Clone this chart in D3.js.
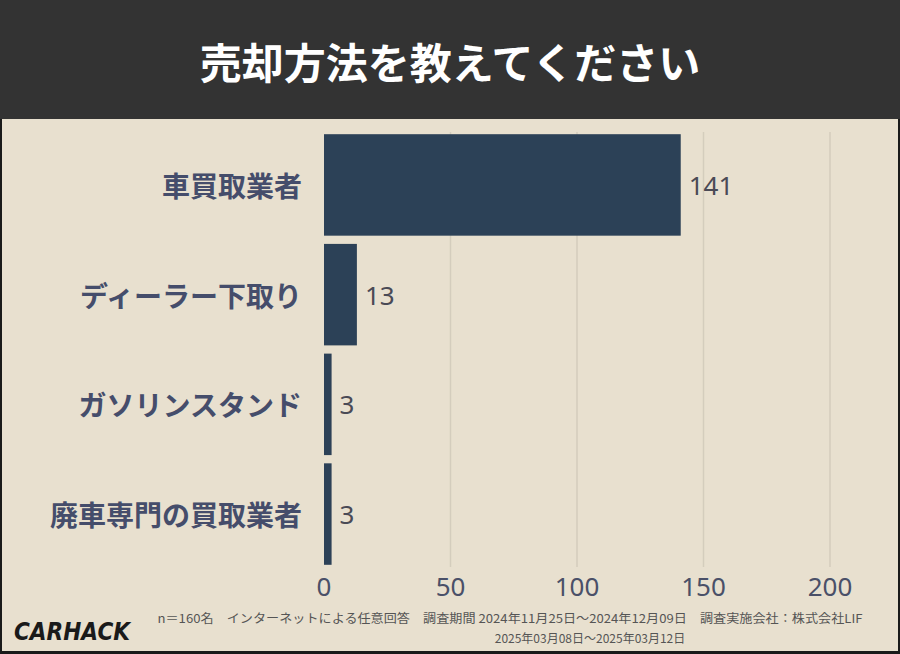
<!DOCTYPE html>
<html><head><meta charset="utf-8">
<script src="https://cdn.jsdelivr.net/npm/d3@7"></script>
<style>body{margin:0;background:#000}svg{display:block}</style>
</head><body><svg id="c" width="900" height="654"></svg>
<script>
const categories=["車買取業者","ディーラー下取り","ガソリンスタンド","廃車専門の買取業者"];
const values=[141,13,3,3];
const ticks=[0,50,100,150,200];
const title="売却方法を教えてください";
const svg=d3.select("#c");
const F="'Noto Sans CJK JP','Noto Sans',sans-serif";
svg.append("rect").attr("width",900).attr("height",654).attr("fill","#1a1a1a");
svg.append("rect").attr("x",2).attr("y",0).attr("width",896).attr("height",651).attr("fill","#e8e0cf");
svg.append("rect").attr("width",900).attr("height",119).attr("fill","#333333");
svg.append("text").attr("x",450).attr("y",60).attr("text-anchor","middle").attr("dominant-baseline","central")
 .attr("fill","#fff").attr("font-family",F).attr("font-weight",700).attr("font-size",42).text(title);
const x=d3.scaleLinear().domain([0,200]).range([324,830]);
const y=d3.scaleBand().domain(categories).range([132,567]).paddingInner(0.075).paddingOuter(0.02);
const g=svg.append("g");
g.selectAll("line.g").data(ticks.slice(1)).join("line").attr("x1",d=>x(d)).attr("x2",d=>x(d))
 .attr("y1",132).attr("y2",567).attr("stroke","#d4cdbd").attr("stroke-width",1.5);
g.selectAll("rect.b").data(values).join("rect").attr("x",x(0)).attr("y",(d,i)=>y(categories[i]))
 .attr("width",d=>x(d)-x(0)).attr("height",y.bandwidth()).attr("fill","#2c4157");
g.selectAll("text.v").data(values).join("text").attr("x",d=>x(d)+8).attr("y",(d,i)=>y(categories[i])+y.bandwidth()/2)
 .attr("dominant-baseline","central").attr("fill","#4a4a55").attr("font-family","'Noto Sans',sans-serif").attr("font-size",26).text(d=>d);
g.selectAll("text.c").data(categories).join("text").attr("x",302).attr("y",d=>y(d)+y.bandwidth()/2)
 .attr("text-anchor","end").attr("dominant-baseline","central").attr("fill","#454d6b").attr("font-family",F)
 .attr("font-weight",700).attr("font-size",28).text(d=>d);
g.selectAll("text.t").data(ticks).join("text").attr("x",d=>x(d)).attr("y",586).attr("text-anchor","middle")
 .attr("dominant-baseline","central").attr("fill","#4a5068").attr("font-family","'Noto Sans',sans-serif").attr("font-size",26).text(d=>d);
svg.append("text").attr("x",510).attr("y",623).attr("text-anchor","middle").attr("fill","#555").attr("font-family",F).attr("font-size",12)
 .attr("textLength",705).attr("lengthAdjust","spacingAndGlyphs")
 .text("n＝160名　インターネットによる任意回答　調査期間 2024年11月25日〜2024年12月09日　調査実施会社：株式会社LIF");
svg.append("text").attr("x",590).attr("y",643).attr("text-anchor","middle").attr("fill","#555").attr("font-family",F).attr("font-size",12)
 .text("2025年03月08日〜2025年03月12日");
svg.append("text").attr("x",72).attr("y",640).attr("text-anchor","middle").attr("fill","#1a1a1a").attr("font-family","'DejaVu Sans',sans-serif")
 .attr("font-weight",700).attr("font-style","italic").attr("font-size",24).attr("textLength",116).attr("lengthAdjust","spacingAndGlyphs").text("CARHACK");
</script></body></html>
